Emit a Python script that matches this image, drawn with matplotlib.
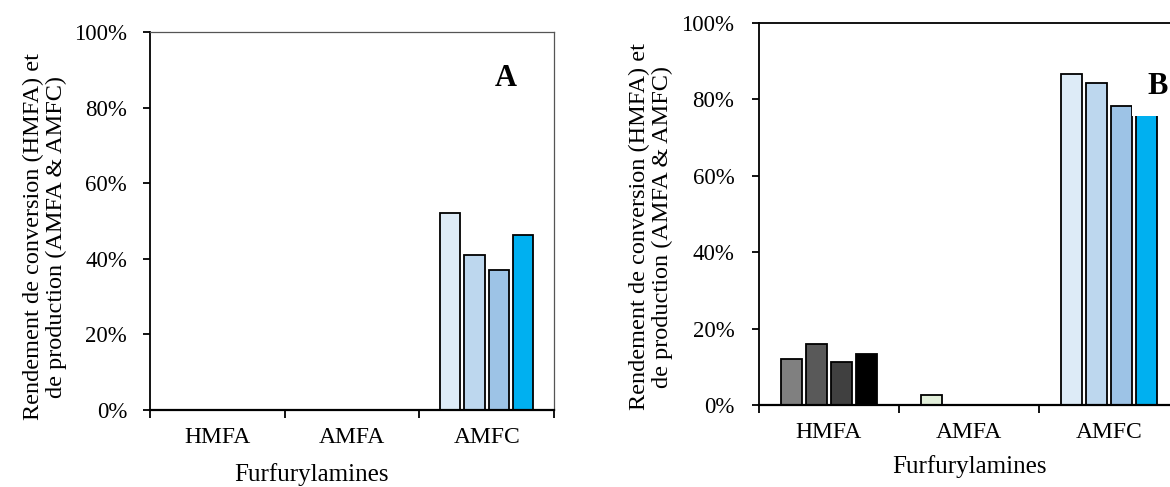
import matplotlib.pyplot as plt
from matplotlib.ticker import FuncFormatter, FixedLocator

categories = ["HMFA", "AMFA", "AMFC"]

# values in %, four bars per category
panel_a = {
    "HMFA": [0, 0, 0, 0],
    "AMFA": [0, 0, 0, 0],
    "AMFC": [52, 41, 37, 46.3],
}
panel_b = {
    "HMFA": [12, 15.9, 11.3, 13.3],
    "AMFA": [2.6, 0, 0, 0],
    "AMFC": [86.7, 84.3, 78.3, 80],
}
y_ticks = [0, 20, 40, 60, 80, 100]

bar_colors = {
    "HMFA": ["#808080", "#595959", "#404040", "#000000"],
    "AMFA": ["#E2EFDA", "#C6E0B4", "#A9D08E", "#70AD47"],
    "AMFC": ["#DDEBF7", "#BDD7EE", "#9DC3E6", "#00B0F0"],
}

plt.rcParams["font.family"] = ["Liberation Serif", "DejaVu Serif"]
YLABEL = "Rendement de conversion (HMFA) et\nde production (AMFA & AMFC)"


def draw_panel(ax, data, ypad):
    step = 0.18
    width = 0.15
    for ci, cat in enumerate(categories):
        for si, val in enumerate(data[cat]):
            x = ci + (si - 1.5) * step
            ax.bar(x, val, width=width, color=bar_colors[cat][si],
                   edgecolor="black", linewidth=1.3, zorder=2)
    ax.set_xlim(-0.5, 2.5)
    ax.set_ylim(0, 100)
    ax.set_yticks(y_ticks)
    ax.yaxis.set_major_formatter(FuncFormatter(lambda v, p: f"{v:.0f}%"))
    ax.set_xticks(range(len(categories)))
    ax.set_xticklabels(categories, fontsize=17)
    ax.xaxis.set_minor_locator(FixedLocator([-0.5, 0.5, 1.5, 2.5]))
    ax.tick_params(axis="x", which="major", length=0, pad=12.5)
    ax.tick_params(axis="x", which="minor", length=6, width=1.3, direction="out")
    ax.tick_params(axis="y", length=5, width=1.3, direction="out", labelsize=16.5, pad=ypad)
    ax.spines["left"].set_linewidth(1.3)
    ax.spines["bottom"].set_linewidth(1.6)
    ax.set_ylabel(YLABEL, fontsize=17.5, linespacing=1.12)
    ax.set_xlabel("Furfurylamines", fontsize=18)


fig = plt.figure(figsize=(11.7, 4.87), dpi=100)

# panel A
ax_a = fig.add_axes([0.1282, 0.1581, 0.3453, 0.7762])
draw_panel(ax_a, panel_a, 11.5)
for s in ("top", "right"):
    ax_a.spines[s].set_color("#555555")
    ax_a.spines[s].set_linewidth(0.9)
ax_a.yaxis.set_label_coords(-0.205, 0.458)
ax_a.xaxis.set_label_coords(0.40, -0.14)
ax_a.text(0.881, 0.877, "A", transform=ax_a.transAxes, fontsize=22,
          fontweight="bold", ha="center", va="center")

# panel B (its right edge falls outside the figure)
ax_b = fig.add_axes([0.6487, 0.1684, 0.359, 0.7844])
draw_panel(ax_b, panel_b, 12.8)
ax_b.spines["top"].set_linewidth(1.3)
ax_b.yaxis.set_label_coords(-0.205, 0.466)
ax_b.xaxis.set_label_coords(0.5, -0.13)
ax_b.text(0.948, 0.834, "B", transform=ax_b.transAxes, fontsize=22,
          fontweight="bold", ha="center", va="center", zorder=5,
          bbox=dict(facecolor="white", edgecolor="none", pad=11))

fig.savefig("out.png", dpi=100)
